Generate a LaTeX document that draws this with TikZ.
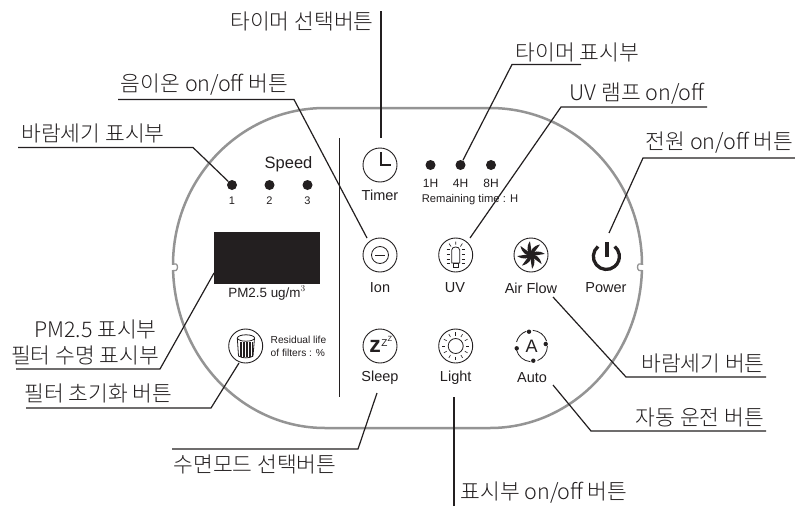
\documentclass[tikz,border=0pt]{standalone}
\usepackage{fontspec}
\setmainfont{Liberation Sans}
\newfontfamily\kr{Noto Sans CJK KR Light}
\definecolor{ink}{HTML}{231F20}
\begin{document}
\begin{tikzpicture}[x=1pt,y=-1pt,
  lead/.style={draw=ink,line width=1.2pt},
  callout/.style={font=\kr\fontsize{21.5}{21.5}\selectfont,inner sep=0pt,text=ink},
  ring/.style={circle,draw=ink,line width=0.9pt,minimum size=34pt,inner sep=0pt},
  led/.style={circle,fill=ink,minimum size=10pt,inner sep=0pt},
  lbl/.style={font=\fontsize{14.5}{14.5}\selectfont,inner sep=0pt,text=ink},
  tiny/.style={font=\fontsize{11}{11}\selectfont,inner sep=0pt,text=ink},
  icon/.style={line width=0.8pt,ink}]
\useasboundingbox (0,0) rectangle (795,506);
\fill[white] (0,0) rectangle (795,506);
% outline
\draw[draw=black!42,line width=2.5pt]
  (173,265) .. controls (173,178) and (241,108) .. (325,108)
  -- (490,108) .. controls (574,108) and (642,178) .. (642,265)
  .. controls (642,355) and (574,428) .. (490,428)
  -- (325,428) .. controls (241,428) and (173,355) .. (173,265) -- cycle;
\fill[white] (171,264.5) rectangle (175,270);
\fill[white] (640,264.5) rectangle (644,270);
\draw[black!42,line width=1.3pt] (173,264) -- (176,264) .. controls (178,265) and (178,269) .. (176,270.5) -- (173,270.5);
\draw[black!42,line width=1.3pt] (642,264) -- (639,264) .. controls (637,265) and (637,269) .. (639,270.5) -- (642,270.5);
% divider
\draw[ink,line width=1pt] (339.5,138) -- (339.5,397);
% left
\node[led] (s1) at (232,185) {};
\node[led] (s2) at (269.5,185) {};
\node[led] (s3) at (307.5,185) {};
\node[lbl,font=\fontsize{16.5}{16.5}\selectfont] (speed) at (288.5,164) {Speed};
\node[tiny] (n1) at (232,201) {1};
\node[tiny] (n2) at (269.5,201) {2};
\node[tiny] (n3) at (307.5,201) {3};
\node[fill=ink,minimum width=106pt,minimum height=52pt,inner sep=0pt] (disp) at (267,258) {};
\node[tiny,font=\fontsize{13.4}{13.4}\selectfont] (pm) at (267,293) {PM2.5 ug/m$^{3}$};
\node[ring] (filter) at (245.7,346) {};
\draw[icon] (237.3,338) -- (238.5,356) .. controls (242,358.5) and (250,358.5) .. (253,356) -- (254.5,338);
\draw[icon] (246,338) ellipse (8.6pt and 3.2pt);
\foreach \x in {240,241.5,243,244.5,246,247.5,249,250.5,252}{\draw[ink,line width=0.55pt] (\x,342) -- (\x,357);}
\node[tiny,font=\fontsize{10.2}{13}\selectfont,align=left,anchor=west] (res) at (270.5,346.5) {Residual life\\of filters : \%};
% row 1
\node[ring] (timer) at (380,165) {};
\draw[ink,line width=1.9pt] (381,152) -- (381,165) -- (391,165);
\node[lbl] (ttimer) at (380,195) {Timer};
\node[led] (h1) at (430.5,165) {};
\node[led] (h4) at (460.5,165) {};
\node[led] (h8) at (491,165) {};
\node[tiny,font=\fontsize{12}{12}\selectfont] (t1) at (430.5,183) {1H};
\node[tiny,font=\fontsize{12}{12}\selectfont] (t4) at (460.5,183) {4H};
\node[tiny,font=\fontsize{12}{12}\selectfont] (t8) at (491,183) {8H};
\node[tiny,font=\fontsize{11.2}{11.2}\selectfont] (rem) at (470,199.5) {Remaining time : H};
% row 2
\node[ring] (ion) at (380,255) {};
\draw[icon] (380,255) circle (8.5pt);
\draw[icon,line width=1pt] (375,255) -- (385,255);
\node[lbl] (tion) at (380,288) {Ion};
\node[ring] (uv) at (455.7,255) {};
\draw[icon] (451.7,250) .. controls (451.7,246) and (459.7,246) .. (459.7,250) -- (459.7,263) -- (451.7,263) -- cycle;
\draw[icon] (453.2,263) rectangle (458.2,267.5);
\foreach \y in {249.5,254,259,263}{\draw[icon,line width=.6pt] (446.5,\y) -- (450,\y);\draw[icon,line width=.6pt] (461.5,\y) -- (465,\y);}
\draw[icon,line width=.6pt] (455.7,241.5) -- (455.7,244.5) (449,243.5) -- (451,246.5) (462.4,243.5) -- (460.4,246.5);
\node[lbl] (tuv) at (455,288) {UV};
\node[ring] (air) at (531,255) {};
\foreach \a in {0,45,...,315}{\fill[ink,rotate around={\a:(531,255)}] (530.2,255) .. controls (530.5,250) and (533,246) .. (540,244.5) .. controls (537,248.5) and (534.5,252.5) .. (531.8,255) -- cycle;}
\node[lbl] (tair) at (531,288) {Air Flow};
\draw[ink,line width=3.3pt] (598,246.5) arc (130:410:13pt);
\draw[ink,line width=3.3pt] (607,242) -- (607,257);
\node[lbl] (tpow) at (606,288) {Power};
% row 3
\node[ring] (sleep) at (380,346) {};
\node[inner sep=0pt,font=\bfseries\fontsize{23}{23}\selectfont,text=ink] (zz) at (375,346) {z};
\node[inner sep=0pt,font=\fontsize{10}{10}\selectfont,text=ink] (zz2) at (384.5,343) {Z};
\node[inner sep=0pt,font=\fontsize{7.5}{7.5}\selectfont,text=ink] (zz3) at (390,339) {Z};
\node[lbl] (tsleep) at (380,378) {Sleep};
\node[ring] (light) at (455.7,346) {};
\draw[icon] (455.7,346) circle (7.5pt);
\foreach \a in {0,30,...,330}{\draw[icon,line width=.6pt] (455.7,346) ++(\a:10.5pt) -- ++(\a:3.2pt);}
\node[lbl] (tlight) at (455.7,378) {Light};
\node[inner sep=0pt,font=\fontsize{18}{18}\selectfont,text=ink] (autoa) at (531.5,346) {A};
\draw[icon] (531.7,346) ++(86:15.7pt) arc (86:18:15.7pt);
\draw[icon] (531.7,346) ++(0:15.7pt) arc (0:-68:15.7pt);
\draw[icon] (531.7,346) ++(-95:15.7pt) arc (-95:-165:15.7pt);
\draw[icon] (531.7,346) ++(165:15.7pt) arc (165:110:15.7pt);
\fill[ink] (529,331.7) circle (2.2pt) (545.7,344) circle (2.2pt) (516.7,348.3) circle (2.2pt) (533.3,360.7) circle (2.2pt);
\node[lbl] (tauto) at (532,378) {Auto};
% callouts
\node[callout] (l1) at (302,21) {타이머 선택버튼};
\coordinate (e1a) at (381,11);\coordinate (e1b) at (381,138);
\draw[lead] (e1a) -- (e1b);
\node[callout] (l2) at (577.5,52) {타이머 표시부};
\coordinate (e2a) at (581,64.5);\coordinate (e2b) at (512,64.5);
\draw[lead] (e2a) -- (e2b) -- (h4);
\node[callout] (l3) at (204.5,85) {음이온 on/off 버튼};
\coordinate (e3a) at (118,99.5);\coordinate (e3b) at (294,99.5);\coordinate (e3c) at (367,238);
\draw[lead] (e3a) -- (e3b) -- (e3c);
\node[callout] (l4) at (637,94) {UV 램프 on/off};
\coordinate (e4a) at (707,107);\coordinate (e4b) at (561,107);\coordinate (e4c) at (470,238);
\draw[lead] (e4a) -- (e4b) -- (e4c);
\node[callout] (l5) at (93,133) {바람세기 표시부};
\coordinate (e5a) at (18,147.5);\coordinate (e5b) at (193,147.5);
\draw[lead] (e5a) -- (e5b) -- (s1);
\node[callout] (l6) at (719.5,143) {전원 on/off 버튼};
\coordinate (e6a) at (795,158);\coordinate (e6b) at (643,158);\coordinate (e6c) at (609,233);
\draw[lead] (e6a) -- (e6b) -- (e6c);
\node[callout] (l7) at (95.5,329) {PM2.5 표시부};
\node[callout] (l8) at (85,355) {필터 수명 표시부};
\coordinate (e8a) at (16,369);\coordinate (e8b) at (160,369);\coordinate (e8c) at (214,273);
\draw[lead] (e8a) -- (e8b) -- (e8c);
\node[callout] (l9) at (98.5,393) {필터 초기화 버튼};
\coordinate (e9a) at (26,408);\coordinate (e9b) at (211,408);\coordinate (e9c) at (239,363);
\draw[lead] (e9a) -- (e9b) -- (e9c);
\node[callout] (l10) at (255,464) {수면모드 선택버튼};
\coordinate (e10a) at (172,449);\coordinate (e10b) at (358,449);\coordinate (e10c) at (377,393);
\draw[lead] (e10a) -- (e10b) -- (e10c);
\node[callout] (l11) at (544,493) {표시부 on/off 버튼};
\coordinate (e11a) at (454,506);\coordinate (e11b) at (454,397);
\draw[lead] (e11a) -- (e11b);
\node[callout] (l12) at (703,363) {바람세기 버튼};
\coordinate (e12a) at (766,377);\coordinate (e12b) at (626,377);\coordinate (e12c) at (553,297);
\draw[lead] (e12a) -- (e12b) -- (e12c);
\node[callout] (l13) at (700,417) {자동 운전 버튼};
\coordinate (e13a) at (766,431);\coordinate (e13b) at (591,431);\coordinate (e13c) at (553,385);
\draw[lead] (e13a) -- (e13b) -- (e13c);
\end{tikzpicture}
\end{document}
